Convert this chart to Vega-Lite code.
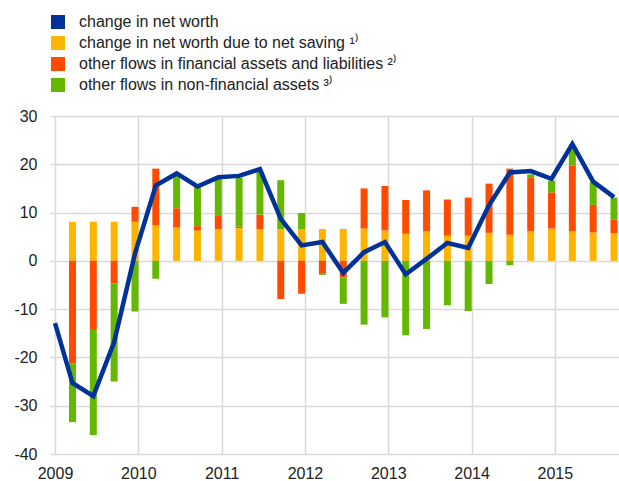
{
  "$schema": "https://vega.github.io/schema/vega-lite/v6.json",
  "width": 569,
  "height": 338,
  "autosize": {"type": "none"},
  "padding": {"left": 50, "top": 116, "right": 0, "bottom": 27},
  "background": "white",
  "config": {
    "font": "Liberation Sans",
    "view": {"stroke": null},
    "axis": {"labelFont": "Liberation Sans", "labelFontSize": 16, "labelColor": "#222222", "gridColor": "#d9d9d9", "gridWidth": 1.5, "domain": false, "ticks": false, "title": null}
  },
  "datasets": {
    "bars": [
      {"t": 2009.21, "series": "change in net worth due to net saving ¹⁾", "o": 1, "value": 8.1},
      {"t": 2009.21, "series": "other flows in financial assets and liabilities ²⁾", "o": 2, "value": -21.3},
      {"t": 2009.21, "series": "other flows in non-financial assets ³⁾", "o": 3, "value": -12.1},
      {"t": 2009.46, "series": "change in net worth due to net saving ¹⁾", "o": 1, "value": 8.1},
      {"t": 2009.46, "series": "other flows in financial assets and liabilities ²⁾", "o": 2, "value": -14.3},
      {"t": 2009.46, "series": "other flows in non-financial assets ³⁾", "o": 3, "value": -21.8},
      {"t": 2009.71, "series": "change in net worth due to net saving ¹⁾", "o": 1, "value": 8.1},
      {"t": 2009.71, "series": "other flows in financial assets and liabilities ²⁾", "o": 2, "value": -4.7},
      {"t": 2009.71, "series": "other flows in non-financial assets ³⁾", "o": 3, "value": -20.3},
      {"t": 2009.96, "series": "change in net worth due to net saving ¹⁾", "o": 1, "value": 8.1},
      {"t": 2009.96, "series": "other flows in financial assets and liabilities ²⁾", "o": 2, "value": 3.1},
      {"t": 2009.96, "series": "other flows in non-financial assets ³⁾", "o": 3, "value": -10.5},
      {"t": 2010.21, "series": "change in net worth due to net saving ¹⁾", "o": 1, "value": 7.3},
      {"t": 2010.21, "series": "other flows in financial assets and liabilities ²⁾", "o": 2, "value": 11.8},
      {"t": 2010.21, "series": "other flows in non-financial assets ³⁾", "o": 3, "value": -3.7},
      {"t": 2010.46, "series": "change in net worth due to net saving ¹⁾", "o": 1, "value": 6.9},
      {"t": 2010.46, "series": "other flows in financial assets and liabilities ²⁾", "o": 2, "value": 4.0},
      {"t": 2010.46, "series": "other flows in non-financial assets ³⁾", "o": 3, "value": 6.8},
      {"t": 2010.71, "series": "change in net worth due to net saving ¹⁾", "o": 1, "value": 6.3},
      {"t": 2010.71, "series": "other flows in financial assets and liabilities ²⁾", "o": 2, "value": 0.9},
      {"t": 2010.71, "series": "other flows in non-financial assets ³⁾", "o": 3, "value": 8.1},
      {"t": 2010.96, "series": "change in net worth due to net saving ¹⁾", "o": 1, "value": 6.6},
      {"t": 2010.96, "series": "other flows in financial assets and liabilities ²⁾", "o": 2, "value": 2.7},
      {"t": 2010.96, "series": "other flows in non-financial assets ³⁾", "o": 3, "value": 7.7},
      {"t": 2011.21, "series": "change in net worth due to net saving ¹⁾", "o": 1, "value": 6.8},
      {"t": 2011.21, "series": "other flows in financial assets and liabilities ²⁾", "o": 2, "value": 0.3},
      {"t": 2011.21, "series": "other flows in non-financial assets ³⁾", "o": 3, "value": 10.1},
      {"t": 2011.46, "series": "change in net worth due to net saving ¹⁾", "o": 1, "value": 6.5},
      {"t": 2011.46, "series": "other flows in financial assets and liabilities ²⁾", "o": 2, "value": 3.1},
      {"t": 2011.46, "series": "other flows in non-financial assets ³⁾", "o": 3, "value": 8.9},
      {"t": 2011.71, "series": "change in net worth due to net saving ¹⁾", "o": 1, "value": 6.5},
      {"t": 2011.71, "series": "other flows in financial assets and liabilities ²⁾", "o": 2, "value": -7.9},
      {"t": 2011.71, "series": "other flows in non-financial assets ³⁾", "o": 3, "value": 10.2},
      {"t": 2011.96, "series": "change in net worth due to net saving ¹⁾", "o": 1, "value": 6.5},
      {"t": 2011.96, "series": "other flows in financial assets and liabilities ²⁾", "o": 2, "value": -6.8},
      {"t": 2011.96, "series": "other flows in non-financial assets ³⁾", "o": 3, "value": 3.4},
      {"t": 2012.21, "series": "change in net worth due to net saving ¹⁾", "o": 1, "value": 6.6},
      {"t": 2012.21, "series": "other flows in financial assets and liabilities ²⁾", "o": 2, "value": -2.7},
      {"t": 2012.21, "series": "other flows in non-financial assets ³⁾", "o": 3, "value": -0.2},
      {"t": 2012.46, "series": "change in net worth due to net saving ¹⁾", "o": 1, "value": 6.6},
      {"t": 2012.46, "series": "other flows in financial assets and liabilities ²⁾", "o": 2, "value": -3.4},
      {"t": 2012.46, "series": "other flows in non-financial assets ³⁾", "o": 3, "value": -5.5},
      {"t": 2012.71, "series": "change in net worth due to net saving ¹⁾", "o": 1, "value": 6.7},
      {"t": 2012.71, "series": "other flows in financial assets and liabilities ²⁾", "o": 2, "value": 8.3},
      {"t": 2012.71, "series": "other flows in non-financial assets ³⁾", "o": 3, "value": -13.2},
      {"t": 2012.96, "series": "change in net worth due to net saving ¹⁾", "o": 1, "value": 6.3},
      {"t": 2012.96, "series": "other flows in financial assets and liabilities ²⁾", "o": 2, "value": 9.2},
      {"t": 2012.96, "series": "other flows in non-financial assets ³⁾", "o": 3, "value": -11.7},
      {"t": 2013.21, "series": "change in net worth due to net saving ¹⁾", "o": 1, "value": 5.6},
      {"t": 2013.21, "series": "other flows in financial assets and liabilities ²⁾", "o": 2, "value": 7.0},
      {"t": 2013.21, "series": "other flows in non-financial assets ³⁾", "o": 3, "value": -15.4},
      {"t": 2013.46, "series": "change in net worth due to net saving ¹⁾", "o": 1, "value": 6.1},
      {"t": 2013.46, "series": "other flows in financial assets and liabilities ²⁾", "o": 2, "value": 8.5},
      {"t": 2013.46, "series": "other flows in non-financial assets ³⁾", "o": 3, "value": -14.1},
      {"t": 2013.71, "series": "change in net worth due to net saving ¹⁾", "o": 1, "value": 5.2},
      {"t": 2013.71, "series": "other flows in financial assets and liabilities ²⁾", "o": 2, "value": 7.5},
      {"t": 2013.71, "series": "other flows in non-financial assets ³⁾", "o": 3, "value": -9.2},
      {"t": 2013.96, "series": "change in net worth due to net saving ¹⁾", "o": 1, "value": 5.2},
      {"t": 2013.96, "series": "other flows in financial assets and liabilities ²⁾", "o": 2, "value": 7.9},
      {"t": 2013.96, "series": "other flows in non-financial assets ³⁾", "o": 3, "value": -10.4},
      {"t": 2014.21, "series": "change in net worth due to net saving ¹⁾", "o": 1, "value": 5.8},
      {"t": 2014.21, "series": "other flows in financial assets and liabilities ²⁾", "o": 2, "value": 10.2},
      {"t": 2014.21, "series": "other flows in non-financial assets ³⁾", "o": 3, "value": -4.8},
      {"t": 2014.46, "series": "change in net worth due to net saving ¹⁾", "o": 1, "value": 5.4},
      {"t": 2014.46, "series": "other flows in financial assets and liabilities ²⁾", "o": 2, "value": 13.7},
      {"t": 2014.46, "series": "other flows in non-financial assets ³⁾", "o": 3, "value": -0.9},
      {"t": 2014.71, "series": "change in net worth due to net saving ¹⁾", "o": 1, "value": 6.1},
      {"t": 2014.71, "series": "other flows in financial assets and liabilities ²⁾", "o": 2, "value": 11.1},
      {"t": 2014.71, "series": "other flows in non-financial assets ³⁾", "o": 3, "value": 0.7},
      {"t": 2014.96, "series": "change in net worth due to net saving ¹⁾", "o": 1, "value": 6.7},
      {"t": 2014.96, "series": "other flows in financial assets and liabilities ²⁾", "o": 2, "value": 7.5},
      {"t": 2014.96, "series": "other flows in non-financial assets ³⁾", "o": 3, "value": 2.4},
      {"t": 2015.21, "series": "change in net worth due to net saving ¹⁾", "o": 1, "value": 6.1},
      {"t": 2015.21, "series": "other flows in financial assets and liabilities ²⁾", "o": 2, "value": 13.6},
      {"t": 2015.21, "series": "other flows in non-financial assets ³⁾", "o": 3, "value": 3.5},
      {"t": 2015.46, "series": "change in net worth due to net saving ¹⁾", "o": 1, "value": 5.9},
      {"t": 2015.46, "series": "other flows in financial assets and liabilities ²⁾", "o": 2, "value": 5.7},
      {"t": 2015.46, "series": "other flows in non-financial assets ³⁾", "o": 3, "value": 4.7},
      {"t": 2015.71, "series": "change in net worth due to net saving ¹⁾", "o": 1, "value": 5.7},
      {"t": 2015.71, "series": "other flows in financial assets and liabilities ²⁾", "o": 2, "value": 2.8},
      {"t": 2015.71, "series": "other flows in non-financial assets ³⁾", "o": 3, "value": 4.6}
    ],
    "line": [
      {"t": 2009.0, "value": -12.9},
      {"t": 2009.21, "value": -25.3},
      {"t": 2009.46, "value": -28.0},
      {"t": 2009.71, "value": -16.8},
      {"t": 2009.96, "value": 1.5},
      {"t": 2010.21, "value": 15.6},
      {"t": 2010.46, "value": 18.1},
      {"t": 2010.71, "value": 15.4},
      {"t": 2010.96, "value": 17.3},
      {"t": 2011.21, "value": 17.6},
      {"t": 2011.46, "value": 19.0},
      {"t": 2011.71, "value": 8.7},
      {"t": 2011.96, "value": 3.2},
      {"t": 2012.21, "value": 3.9},
      {"t": 2012.46, "value": -2.5},
      {"t": 2012.71, "value": 1.8},
      {"t": 2012.96, "value": 3.9},
      {"t": 2013.21, "value": -2.8},
      {"t": 2013.46, "value": 0.4},
      {"t": 2013.71, "value": 3.7},
      {"t": 2013.96, "value": 2.7},
      {"t": 2014.21, "value": 11.5},
      {"t": 2014.46, "value": 18.3},
      {"t": 2014.71, "value": 18.6},
      {"t": 2014.96, "value": 17.0},
      {"t": 2015.21, "value": 24.2},
      {"t": 2015.46, "value": 16.4},
      {"t": 2015.71, "value": 13.2}
    ]
  },
  "layer": [
    {
      "data": {"name": "bars"},
      "mark": {"type": "bar", "size": 7, "clip": true},
      "encoding": {
        "x": {"field": "t", "type": "quantitative", "scale": {"domain": [2009, 2015.71], "nice": false, "zero": false},
              "axis": {"values": [2009, 2010, 2011, 2012, 2013, 2014, 2015], "format": "d", "labelPadding": 11, "labelFlush": false, "labelOverlap": false}},
        "y": {"field": "value", "type": "quantitative", "stack": "zero", "scale": {"domain": [-40, 30], "nice": false},
              "axis": {"values": [-40, -30, -20, -10, 0, 10, 20, 30], "labelPadding": 13, "labelExpr": "replace(datum.label, '−', '-')"}},
        "color": {
          "field": "series", "type": "nominal",
          "scale": {
            "domain": ["change in net worth", "change in net worth due to net saving ¹⁾", "other flows in financial assets and liabilities ²⁾", "other flows in non-financial assets ³⁾"],
            "range": ["#003299", "#FFB400", "#FF4B00", "#65B800"]
          },
          "legend": {
            "orient": "none", "legendX": 0, "legendY": -102, "direction": "vertical", "title": null,
            "symbolType": "square", "symbolSize": 196, "symbolStrokeWidth": 0, "symbolOpacity": 1,
            "labelFontSize": 16, "labelFont": "Liberation Sans", "labelColor": "#222222", "labelOffset": 13, "rowPadding": 5, "padding": 0, "labelLimit": 500,
            "encode": {"symbols": {"update": {"fill": {"scale": "color", "field": "value"}, "opacity": {"value": 1}}}}
          }
        },
        "order": {"field": "o", "type": "quantitative"}
      }
    },
    {
      "data": {"name": "line"},
      "mark": {"type": "line", "strokeWidth": 4.5, "clip": true, "strokeJoin": "miter"},
      "encoding": {
        "x": {"field": "t", "type": "quantitative"},
        "y": {"field": "value", "type": "quantitative"},
        "color": {"datum": "change in net worth"}
      }
    }
  ]
}
